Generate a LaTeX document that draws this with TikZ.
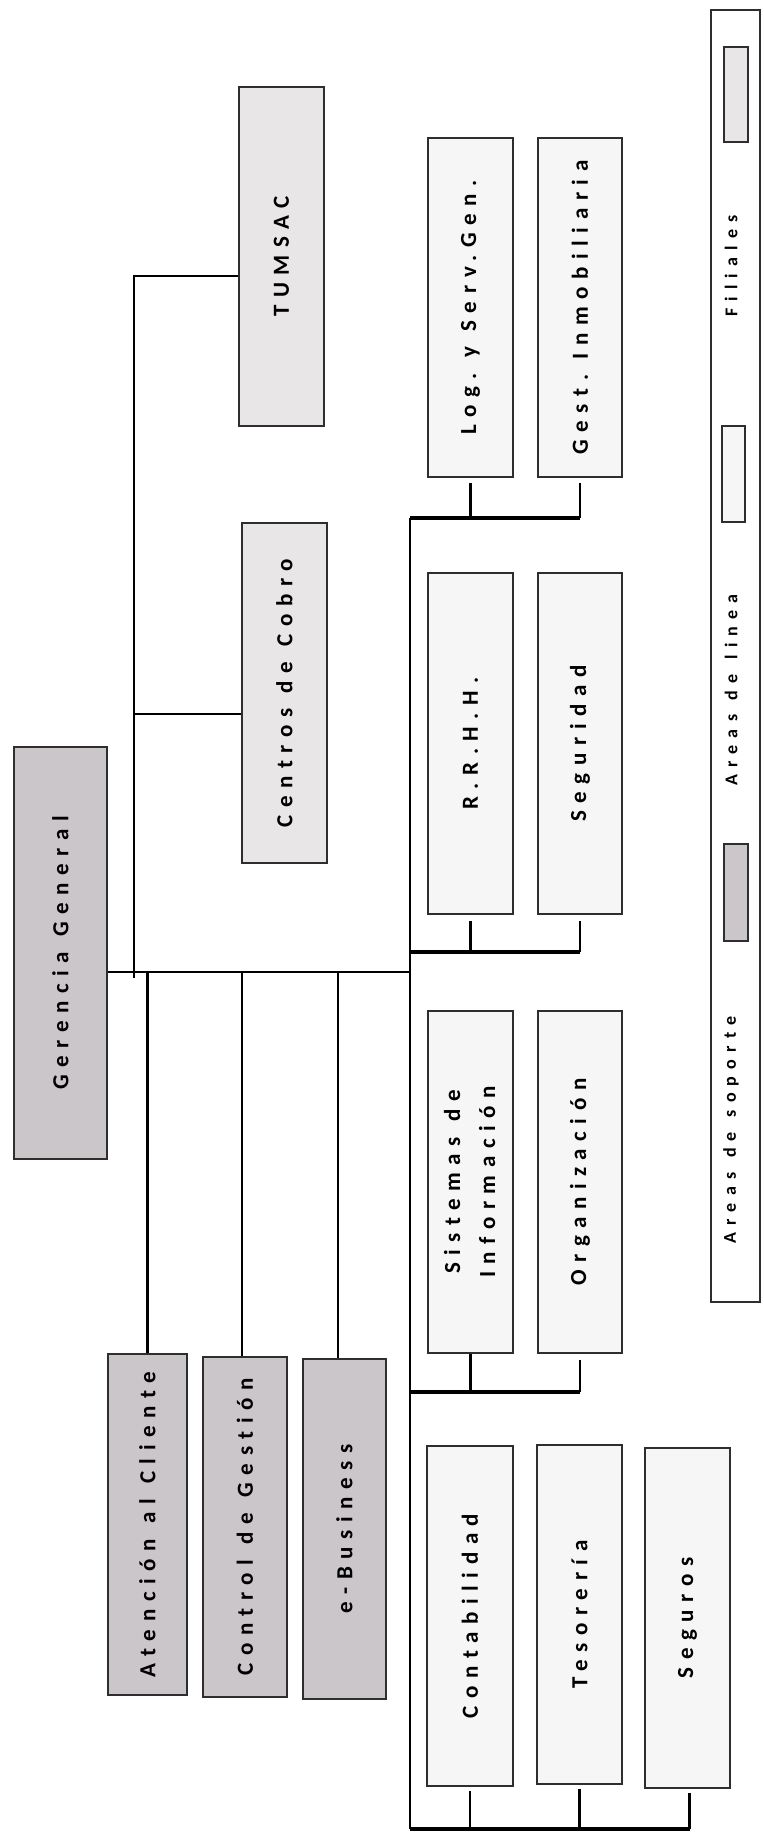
\documentclass[tikz,border=0pt]{standalone}
\usepackage{fontspec}
\setmainfont{Carlito}
\frenchspacing
\newfontfamily\lsf[LetterSpace=33,WordSpace=1.2,Ligatures=NoCommon,UprightFont=*-Bold]{Carlito}
\newfontfamily\lsg[LetterSpace=40,WordSpace=1.3,Ligatures=NoCommon,UprightFont=*-Bold]{Carlito}
\definecolor{darkfill}{HTML}{CBC6CA}
\definecolor{lightfill}{HTML}{E9E6E8}
\definecolor{whitefill}{HTML}{F7F6F7}
\definecolor{boxline}{HTML}{2E2E2E}
\newcommand{\bt}[1]{\rotatebox{90}{\lsf\frenchspacing\fontsize{23}{35}\selectfont #1}}
\newcommand{\btt}[2]{\rotatebox{90}{\lsf\frenchspacing\fontsize{23}{35}\selectfont\begin{tabular}{@{}c@{}}#1\\#2\end{tabular}}}
\newcommand{\lt}[1]{\rotatebox{90}{\lsg\fontsize{18}{21}\selectfont #1}}
\tikzset{
  orgbox/.style={draw=boxline, line width=1.8pt, inner sep=0pt, text=black},
  dk/.style={orgbox, fill=darkfill},
  lg/.style={orgbox, fill=lightfill},
  wt/.style={orgbox, fill=whitefill},
  mainline/.style={draw=black, line width=2.8pt},
  conn/.style={draw=black, line width=2.4pt},
  hconn/.style={draw=black, line width=3.2pt},
  legtext/.style={inner sep=0pt}
}
\begin{document}
\begin{tikzpicture}[x=1pt,y=-1pt]
\useasboundingbox (0,0) rectangle (763,1843);
% ---- boxes ----
\node[dk, minimum width=93, minimum height=412] (gg) at (60.5,953) {\bt{Gerencia General}};
\node[lg, minimum width=85, minimum height=339] (tumsac) at (281.5,256.5) {\bt{TUMSAC}};
\node[lg, minimum width=85, minimum height=340] (centros) at (284.5,693) {\bt{Centros de Cobro}};
\node[dk, minimum width=79, minimum height=341] (aten) at (147.5,1524.5) {\bt{Atención al Cliente}};
\node[dk, minimum width=84, minimum height=340] (ctrl) at (245,1527) {\bt{Control de Gestión}};
\node[dk, minimum width=83, minimum height=340] (ebus) at (344.5,1529) {\bt{e-Business}};
\node[wt, minimum width=85, minimum height=339] (log) at (470.5,307.5) {\bt{Log. y Serv.Gen.}};
\node[wt, minimum width=84, minimum height=339] (gest) at (580,307.5) {\bt{Gest. Inmobiliaria}};
\node[wt, minimum width=85, minimum height=341] (rrhh) at (470.5,743.5) {\bt{R.R.H.H.}};
\node[wt, minimum width=84, minimum height=341] (segur) at (580,743.5) {\bt{Seguridad}};
\node[wt, minimum width=85, minimum height=342] (sist) at (470.5,1182) {\btt{Sistemas de}{Información}};
\node[wt, minimum width=84, minimum height=342] (org) at (580,1182) {\bt{Organización}};
\node[wt, minimum width=86, minimum height=340] (cont) at (470,1616) {\bt{Contabilidad}};
\node[wt, minimum width=85, minimum height=339] (teso) at (579.5,1614.5) {\bt{Tesorería}};
\node[wt, minimum width=85, minimum height=340] (segu) at (687.5,1618) {\bt{Seguros}};
% ---- legend ----
\node[orgbox, fill=white, line width=1.5pt, minimum width=49, minimum height=1292] (legend) at (735.5,656) {};
\node[lg, line width=1.5pt, minimum width=24, minimum height=95] (swfil) at (736,94.5) {};
\node[wt, line width=1.5pt, minimum width=23, minimum height=96] (swlin) at (733.5,474) {};
\node[dk, line width=1.5pt, minimum width=24, minimum height=97] (swsop) at (736,892.5) {};
\node[legtext] (tfil) at (731,266) {\lt{Filiales}};
\node[legtext] (tlin) at (731,690) {\lt{Areas de linea}};
\node[legtext] (tsop) at (731,1130) {\lt{Areas de soporte}};
% ---- junction coordinates ----
\coordinate (mR) at (410,972);
\coordinate (vT) at (134,276);
\coordinate (vB) at (134,978);
\coordinate (vC) at (134,714);
\coordinate (g1) at (410,518);
\coordinate (g2) at (410,952);
\coordinate (g3) at (410,1392);
\coordinate (g4) at (410,1829);
\coordinate (eb) at (338,972);
% ---- main connectors ----
\draw[mainline] (gg.east |- mR) -- (mR);
\draw[mainline] (vB) -- (vT) -- (tumsac.west |- vT);
\draw[mainline] (vC) -- (centros.west |- vC);
\draw[conn] (aten.north |- mR) -- (aten.north);
\draw[conn] (242,972) -- (ctrl.north -| 242,0);
\draw[conn] (eb) -- (ebus.north -| eb);
\draw[mainline] (g1) -- (g4);
% ---- group connectors ----
\draw[hconn] (g1) -- (gest.south |- g1);
\draw[conn] ([yshift=-5pt]log.south) -- (log.south |- g1);
\draw[conn] ([yshift=-5pt]gest.south) -- (gest.south |- g1);
\draw[hconn] (g2) -- (segur.south |- g2);
\draw[conn] ([yshift=-6pt]rrhh.south) -- (rrhh.south |- g2);
\draw[conn] ([yshift=-6pt]segur.south) -- (segur.south |- g2);
\draw[hconn] (g3) -- (org.south |- g3);
\draw[conn] (sist.south) -- (sist.south |- g3);
\draw[conn] ([yshift=-6pt]org.south) -- (org.south |- g3);
\draw[draw=black, line width=4pt] (g4) -- ([xshift=2pt]segu.south |- g4);
\draw[conn] ([yshift=-4pt]cont.south) -- (cont.south |- g4);
\draw[conn] ([yshift=-4pt]teso.south) -- (teso.south |- g4);
\draw[draw=black, line width=3pt] ([xshift=2pt,yshift=-4pt]segu.south) -- ([xshift=2pt]segu.south |- g4);
\end{tikzpicture}
\end{document}
